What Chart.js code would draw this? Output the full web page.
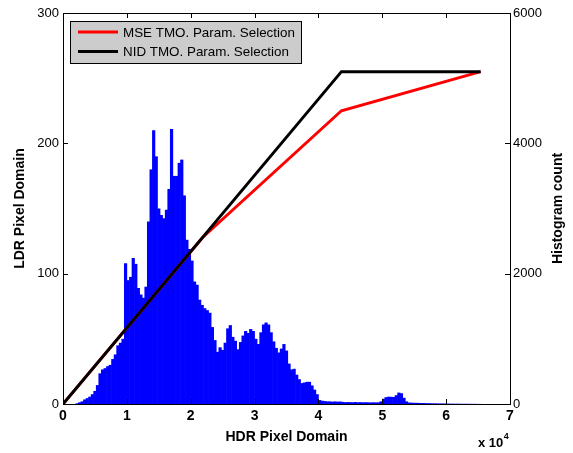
<!DOCTYPE html>
<html>
<head>
<meta charset="utf-8">
<script src="https://cdn.jsdelivr.net/npm/chart.js@4.4.1/dist/chart.umd.min.js"></script>
<style>
  body { margin: 0; background: #fff; }
</style>
</head>
<body>
<canvas id="myChart" width="573" height="453"></canvas>
<script>
// tick labels
var hdrTicks = [0, 1, 2, 3, 4, 5, 6, 7];          // x 10^4
var ldrTicks = [0, 100, 200, 300];
var countTicks = [0, 2000, 4000, 6000];

// tone mapping curves (HDR value -> LDR value)
var mseX = [0, 21900, 43600, 65400];
var mseY = [0, 128, 225, 255];
var nidX = [0, 43600, 65400];
var nidY = [0, 255, 255];

// histogram of the HDR image, bins of 400
var binWidth = 400;
var histCounts = [
  0, 0, 0, 0, 0, 10, 25, 40, 70, 90,
  112, 150, 200, 290, 470, 530, 550, 580, 600, 690,
  760, 900, 940, 1000, 2160, 1900, 1950, 2240, 2150, 1780,
  1680, 1630, 1800, 2800, 3600, 4200, 3800, 3000, 2900, 2850,
  2980, 3300, 4220, 3500, 3500, 3700, 3750, 3200, 2520, 2380,
  2200, 1880, 1830, 1600, 1520, 1470, 1440, 1400, 1180, 980,
  800, 870, 830, 940, 1160, 1210, 1030, 970, 840, 950,
  1050, 1120, 1090, 1150, 1120, 1000, 920, 1100, 1220, 1250,
  1220, 1100, 960, 860, 790, 850, 920, 820, 620, 530,
  540, 450, 380, 320, 330, 340, 340, 285, 220, 150,
  60, 50, 45, 40, 40, 35, 40, 35, 38, 32,
  28, 30, 28, 27, 30, 26, 28, 25, 27, 25,
  24, 26, 24, 25, 40, 80, 105, 112, 110, 108,
  135, 175, 165, 95, 40, 22, 20, 18, 18, 16,
  15, 14, 13, 12, 10, 10, 9, 8, 8, 7,
  6, 5, 5, 4, 4, 4, 3, 3, 3, 2,
  2, 2, 1, 1, 0
];

var FONT = '"Liberation Sans", Arial, Helvetica, sans-serif';

function pts(xs, ys) {
  return xs.map(function (x, i) { return {x: x, y: ys[i]}; });
}

var histData = histCounts.map(function (c, i) {
  return {x: binWidth * i + binWidth / 2, y: c};
});

// box, inward ticks, axis titles, legend, exponent
var matlabLook = {
  id: 'matlabLook',
  afterDraw: function (chart) {
    var ctx = chart.ctx;
    var a = chart.chartArea;
    var sx = chart.scales.x, sy = chart.scales.y, sy2 = chart.scales.y2;
    ctx.save();
    ctx.strokeStyle = '#000';
    ctx.lineWidth = 1;
    ctx.beginPath();
    ctx.moveTo(a.left, a.top + 0.5);
    ctx.lineTo(a.right, a.top + 0.5);
    sx.ticks.forEach(function (t) {
      var px = Math.round(sx.getPixelForValue(t.value)) + 0.5;
      ctx.moveTo(px, a.bottom); ctx.lineTo(px, a.bottom - 5);
      ctx.moveTo(px, a.top); ctx.lineTo(px, a.top + 5);
    });
    sy.ticks.forEach(function (t) {
      var py = Math.round(sy.getPixelForValue(t.value)) + 0.5;
      ctx.moveTo(a.left, py); ctx.lineTo(a.left + 5, py);
    });
    sy2.ticks.forEach(function (t) {
      var py = Math.round(sy2.getPixelForValue(t.value)) + 0.5;
      ctx.moveTo(a.right, py); ctx.lineTo(a.right - 5, py);
    });
    ctx.stroke();

    // axis titles
    ctx.fillStyle = '#000';
    ctx.font = 'bold 14px ' + FONT;
    ctx.textAlign = 'center';
    ctx.textBaseline = 'middle';
    var midY = (a.top + a.bottom) / 2;
    ctx.save();
    ctx.translate(20, midY);
    ctx.rotate(-Math.PI / 2);
    ctx.fillText('LDR Pixel Domain', 0, 0);
    ctx.restore();
    ctx.save();
    ctx.translate(558, midY);
    ctx.rotate(-Math.PI / 2);
    ctx.fillText('Histogram count', 0, 0);
    ctx.restore();
    ctx.fillText('HDR Pixel Domain', (a.left + a.right) / 2, 437);

    // exponent label
    ctx.textAlign = 'left';
    ctx.textBaseline = 'alphabetic';
    ctx.font = 'bold 13px ' + FONT;
    var base = 'x 10';
    ctx.fillText(base, 478, 447);
    var w = ctx.measureText(base).width;
    ctx.font = 'bold 9px ' + FONT;
    ctx.fillText('4', 478 + w + 0.5, 439);

    // legend
    var lx = 70, ly = 21, lw = 231, lh = 42;
    ctx.fillStyle = '#cccccc';
    ctx.fillRect(lx, ly, lw, lh);
    ctx.strokeRect(lx + 0.5, ly + 0.5, lw, lh);
    var lines = chart.data.datasets.filter(function (d) { return d.type === 'line'; });
    ctx.font = '13.4px ' + FONT;
    ctx.textBaseline = 'middle';
    lines.forEach(function (d, i) {
      var yy = ly + 11 + i * 19.5;
      ctx.strokeStyle = d.borderColor;
      ctx.lineWidth = 3;
      ctx.beginPath();
      ctx.moveTo(78, yy); ctx.lineTo(118, yy);
      ctx.stroke();
      ctx.fillStyle = '#000';
      ctx.fillText(d.label, 123, yy + 1);
    });
    ctx.restore();
  }
};

var ctx = document.getElementById('myChart').getContext('2d');
var myChart = new Chart(ctx, {
  type: 'bar',
  data: {
    datasets: [{
        type: 'line',
        label: 'MSE TMO. Param. Selection',
        data: pts(mseX, mseY),
        borderColor: '#ff0000',
        borderWidth: 3,
        pointRadius: 0,
        yAxisID: 'y',
        order: 1
      }, {
        type: 'line',
        label: 'NID TMO. Param. Selection',
        data: pts(nidX, nidY),
        borderColor: '#000000',
        borderWidth: 3,
        pointRadius: 0,
        yAxisID: 'y',
        order: 0
      }, {
        type: 'bar',
        label: 'Histogram',
        data: histData,
        backgroundColor: '#0000ff',
        borderWidth: 0,
        barPercentage: 1.25,
        categoryPercentage: 1,
        grouped: false,
        yAxisID: 'y2',
        order: 2
      }
    ]
  },
  options: {
    responsive: false,
    animation: false,
    layout: { padding: { top: 13, left: 0, right: 0, bottom: 0 } },
    plugins: {
      legend: { display: false },
      tooltip: { enabled: false }
    },
    scales: {
      x: {
        type: 'linear',
        min: 0,
        max: 70000,
        offset: false,
        grid: { display: false, offset: false, drawTicks: false },
        border: { color: '#000', width: 1 },
        afterBuildTicks: function (s) {
          s.ticks = hdrTicks.map(function (v) { return {value: v * 10000}; });
        },
        afterFit: function (s) { s.height = 49; },
        ticks: {
          autoSkip: false,
          maxRotation: 0,
          padding: 4,
          color: '#000',
          font: { family: FONT, size: 14, weight: 'bold' },
          callback: function (v) { return String(v / 10000); }
        }
      },
      y: {
        position: 'left',
        min: 0,
        max: 300,
        grid: { display: false, drawTicks: false },
        border: { color: '#000', width: 1 },
        afterBuildTicks: function (s) {
          s.ticks = ldrTicks.map(function (v) { return {value: v}; });
        },
        afterFit: function (s) { s.width = 63; },
        ticks: {
          padding: 4,
          color: '#000',
          font: { family: FONT, size: 13 },
          callback: function (v) { return String(v); }
        }
      },
      y2: {
        position: 'right',
        min: 0,
        max: 6000,
        grid: { display: false, drawTicks: false },
        border: { color: '#000', width: 1 },
        afterBuildTicks: function (s) {
          s.ticks = countTicks.map(function (v) { return {value: v}; });
        },
        afterFit: function (s) { s.width = 63; },
        ticks: {
          padding: 3,
          color: '#000',
          font: { family: FONT, size: 13 },
          callback: function (v) { return String(v); }
        }
      }
    }
  },
  plugins: [matlabLook]
});
</script>
</body>
</html>
